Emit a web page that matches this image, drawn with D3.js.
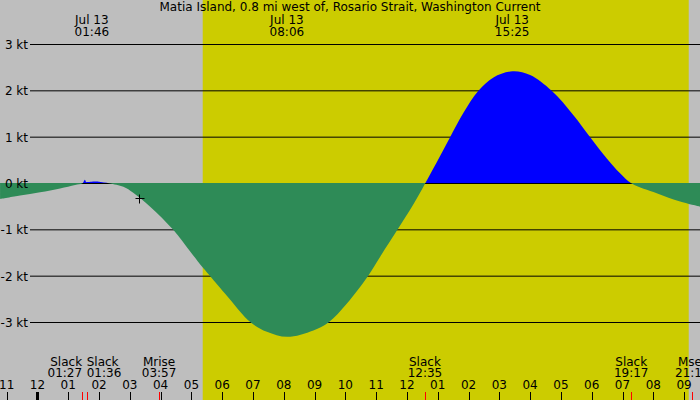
<!DOCTYPE html>
<html>
<head>
<meta charset="utf-8">
<script src="https://cdn.jsdelivr.net/npm/d3@7"></script>
<style>
  body { margin: 0; }
  svg { display: block; font-family: "DejaVu Sans", sans-serif; font-size: 12px; }
</style>
</head>
<body>
<div id="chart"></div>
<script>
// station + window
var title = "Matia Island, 0.8 mi west of, Rosario Strait, Washington Current";
var midnight = new Date(2024, 6, 13, 0, 0);
var windowStart = new Date(2024, 6, 12, 22, 47);
var windowEnd = new Date(2024, 6, 13, 21, 31);
var sunrise = "05:22", sunset = "21:09";

// current speed, hours after midnight Jul 13 -> knots (+ flood, - ebb)
var curveHours = [-1.215, -0.565, 0.084, 0.734, 1.221, 1.45, 1.50, 1.54, 1.58, 1.62, 1.77, 2.05, 2.25, 2.36,
  2.79, 3.11, 3.66, 4.41, 4.96, 5.39, 5.61, 6.15, 6.93, 7.45, 8.11, 8.96, 9.45, 10.05, 10.73, 11.13, 11.69, 12.21,
  12.59, 13.08, 13.40, 13.83, 14.32, 14.81, 15.43, 16.0, 16.70, 17.40, 17.95, 18.49, 18.92, 19.30,
  20.11, 20.87, 21.52];
var curveKnots = [-0.335, -0.26, -0.19, -0.108, -0.032, 0, 0.04, 0.08, 0.03, 0.03, 0.04, 0.035, 0.015, 0,
  -0.07, -0.20, -0.50, -1.00, -1.47, -1.83, -2.00, -2.42, -3.00, -3.20, -3.31, -3.17, -3.00, -2.59, -2.00, -1.58, -1.00, -0.45,
  0, 0.60, 1.00, 1.52, 2.00, 2.29, 2.42, 2.34, 2.00, 1.48, 1.00, 0.54, 0.22, 0,
  -0.21, -0.39, -0.50];

// max current labels along the top
var peakTimes = ["01:46", "08:06", "15:25"];
var peakDate = "Jul 13";

// events along the bottom
var eventNames = ["Slack", "Slack", "Mrise", "Slack", "Slack", "Mset"];
var eventTimes = ["01:27", "01:36", "03:57", "12:35", "19:17", "21:16"];

var knotTicks = [3, 2, 1, 0, -1, -2, -3];

// "now" marker
var markTime = "03:17", markKnots = -0.32;

var width = 700, height = 400;

var clock = function(s) {
  var p = s.split(":");
  return d3.timeMinute.offset(midnight, (+p[0]) * 60 + (+p[1]));
};

var x = d3.scaleTime().domain([windowStart, windowEnd]).range([0, width]);
var y = d3.scaleLinear().domain([3, -3]).range([44.5, 322.5]);

var data = curveHours.map(function(h, i) {
  return { t: d3.timeSecond.offset(midnight, Math.round(h * 3600)), v: curveKnots[i] };
});

var svg = d3.select("#chart").append("svg")
  .attr("width", width)
  .attr("height", height);

// night / day
svg.append("rect")
  .attr("width", width).attr("height", height)
  .style("fill", "#bebebe");
svg.append("rect")
  .attr("x", x(clock(sunrise)))
  .attr("width", x(clock(sunset)) - x(clock(sunrise)))
  .attr("height", height)
  .style("fill", "#cccc00");

// grid
svg.selectAll(".grid")
  .data(knotTicks.filter(function(d) { return d != 0; }))
  .enter().append("line")
  .attr("class", "grid")
  .attr("x1", 30).attr("x2", width)
  .attr("y1", function(d) { return y(d); })
  .attr("y2", function(d) { return y(d); })
  .style("stroke", "black");

// flood (blue) above zero, ebb (green) below
var defs = svg.append("defs");
defs.append("clipPath").attr("id", "above")
  .append("rect").attr("width", width).attr("height", y(0));
defs.append("clipPath").attr("id", "below")
  .append("rect").attr("y", y(0) - 0.5).attr("width", width).attr("height", height);

var floodArea = d3.area()
  .x(function(d) { return x(d.t); })
  .y0(y(0))
  .y1(function(d) { return y(d.v); })
  .curve(d3.curveCatmullRom);

var ebbArea = d3.area()
  .x(function(d) { return x(d.t); })
  .y0(y(0) - 0.5)
  .y1(function(d) { return y(d.v); })
  .curve(d3.curveCatmullRom);

svg.append("path")
  .datum(data)
  .attr("d", floodArea)
  .attr("clip-path", "url(#above)")
  .style("fill", "#0000ff");

svg.append("line")
  .attr("x1", 30).attr("x2", width)
  .attr("y1", y(0)).attr("y2", y(0))
  .style("stroke", "black");

svg.append("path")
  .datum(data)
  .attr("d", ebbArea)
  .attr("clip-path", "url(#below)")
  .style("fill", "#2e8b57");

svg.selectAll(".klabel")
  .data(knotTicks).enter()
  .append("text")
  .attr("class", "klabel")
  .attr("x", 28)
  .attr("y", function(d) { return y(d) + 4.5; })
  .attr("text-anchor", "end")
  .text(function(d) { return d + " kt"; });

// title + peak labels
svg.append("text")
  .attr("x", width / 2).attr("y", 11)
  .attr("text-anchor", "middle")
  .text(title);

var peaks = svg.selectAll(".peak")
  .data(peakTimes).enter()
  .append("text")
  .attr("class", "peak")
  .attr("text-anchor", "middle")
  .attr("x", function(d) { return x(clock(d)); })
  .attr("y", 24);
peaks.append("tspan").text(peakDate);
peaks.append("tspan")
  .attr("x", function(d) { return x(clock(d)); })
  .attr("dy", 11.5)
  .text(function(d) { return d; });

// hour axis
var hours = d3.timeHour.range(d3.timeHour.ceil(windowStart), windowEnd);
svg.selectAll(".hour")
  .data(hours).enter()
  .append("line")
  .attr("class", "hour")
  .attr("x1", function(d) { return Math.round(x(d)) + 0.5; })
  .attr("x2", function(d) { return Math.round(x(d)) + 0.5; })
  .attr("y1", 392).attr("y2", height)
  .style("stroke", "black")
  .style("stroke-width", function(d) { return d.getHours() == 0 ? 3 : 1; });

svg.selectAll(".hlabel")
  .data(hours).enter()
  .append("text")
  .attr("class", "hlabel")
  .attr("x", function(d) { return x(d); })
  .attr("y", 389)
  .attr("text-anchor", "middle")
  .text(d3.timeFormat("%I"));

// events
var evx = eventTimes.map(function(t) { return x(clock(t)); });
svg.selectAll(".event")
  .data(evx).enter()
  .append("line")
  .attr("class", "event")
  .attr("x1", function(d) { return Math.round(d) + 0.5; })
  .attr("x2", function(d) { return Math.round(d) + 0.5; })
  .attr("y1", 392).attr("y2", height)
  .style("stroke", "red");

var anchorFor = function(i) {
  if (i < evx.length - 1 && evx[i + 1] - evx[i] < 30) return "end";
  if (i > 0 && evx[i] - evx[i - 1] < 30) return "start";
  return "middle";
};

var evText = svg.selectAll(".elabel")
  .data(eventNames).enter()
  .append("text")
  .attr("class", "elabel")
  .attr("text-anchor", function(d, i) { return anchorFor(i); })
  .attr("x", function(d, i) { return evx[i]; })
  .attr("y", 366);
evText.append("tspan").text(function(d) { return d; });
evText.append("tspan")
  .attr("x", function(d, i) { return evx[i]; })
  .attr("dy", 11)
  .text(function(d, i) { return eventTimes[i]; });

// marker
var mx = Math.round(x(clock(markTime))) + 0.5, my = Math.round(y(markKnots)) + 0.5;
svg.append("path")
  .attr("d", "M" + (mx - 4) + "," + my + "H" + (mx + 5) + "M" + mx + "," + (my - 4) + "V" + (my + 5))
  .style("stroke", "black")
  .style("fill", "none");
</script>
</body>
</html>
